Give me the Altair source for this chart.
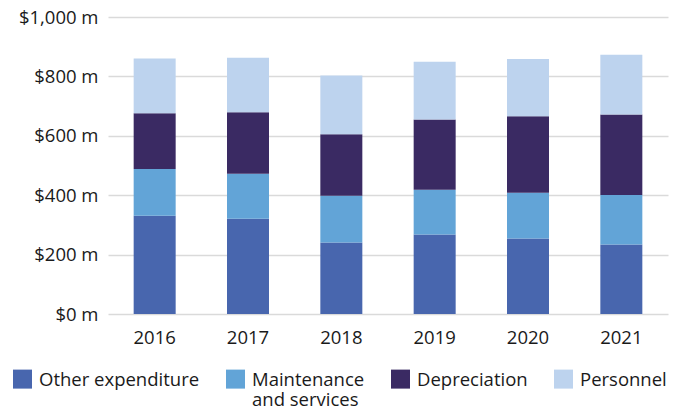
import altair as alt
import pandas as pd

years = ["2016", "2017", "2018", "2019", "2020", "2021"]
series = ["Other expenditure", "Maintenance and services", "Depreciation", "Personnel"]
colors = ["#4866ae", "#62a4d7", "#3a2a63", "#bdd3ee"]
other = [331, 321, 241, 268, 254, 234]
maint = [157, 151, 157, 150, 154, 167]
dep = [188, 207, 207, 237, 258, 271]
pers = [184, 184, 198, 194, 193, 201]

rows = []
for s_i, (name, vals) in enumerate(zip(series, [other, maint, dep, pers])):
    for y, v in zip(years, vals):
        rows.append({"year": y, "series": name, "value": v, "ord": s_i})
df = pd.DataFrame(rows)

FONT = "Open Sans"
TXT = "#1a1a1a"
FS = 18.5

chart = alt.Chart(df).mark_bar().encode(
    x=alt.X("year:N", sort=years,
            scale=alt.Scale(paddingInner=0.55, paddingOuter=0.275),
            axis=alt.Axis(title=None, labelAngle=0, domain=False, ticks=False,
                          labelPadding=14, labelFontSize=FS, labelFont=FONT,
                          labelColor=TXT)),
    y=alt.Y("value:Q", stack="zero",
            scale=alt.Scale(domain=[0, 1000]),
            axis=alt.Axis(title=None, values=[0, 200, 400, 600, 800, 1000],
                          labelExpr="'$' + format(datum.value, ',') + ' m'",
                          domain=False, ticks=False, labelPadding=10,
                          labelFontSize=FS, labelFont=FONT, labelColor=TXT,
                          gridColor="#dadada", gridWidth=1.5)),
    color=alt.Color("series:N",
                    scale=alt.Scale(domain=series, range=colors),
                    legend=alt.Legend(
                        title=None, orient="none", direction="horizontal",
                        columns=4, legendX=-95, legendY=344,
                        symbolType="M-1,-0.12H1V1.88H-1Z", symbolSize=361,
                        symbolStrokeWidth=0, labelBaseline="top",
                        labelFontSize=FS, labelFont=FONT, labelColor=TXT,
                        labelOffset=7, columnPadding=26, labelLimit=300,
                        labelExpr="datum.label == 'Maintenance and services' ? ['Maintenance', 'and services'] : [datum.label, '']")),
    order=alt.Order("ord:Q", sort="ascending"),
).properties(
    width=560, height=297, autosize="none",
    padding={"left": 100, "top": 9, "right": 4, "bottom": 99},
).configure_view(stroke=None)

chart.save("out.html", embed_options={"renderer": "svg", "actions": False})
